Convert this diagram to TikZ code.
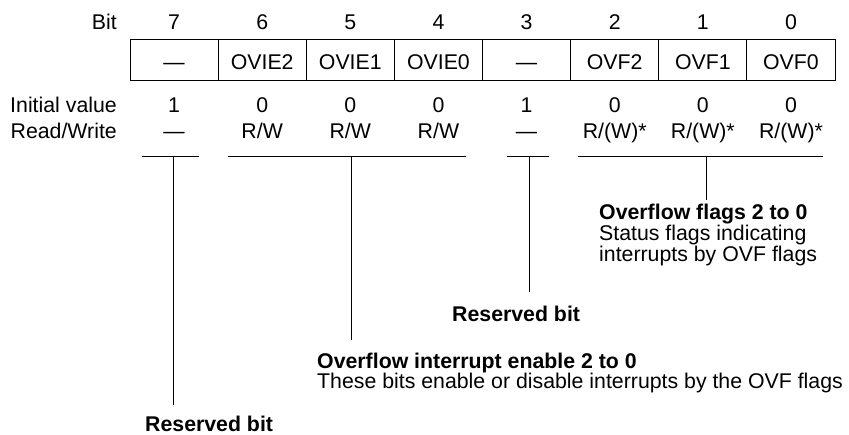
\documentclass[tikz,border=0pt]{standalone}
\usepackage{fontspec}
\setmainfont{Liberation Sans}
\begin{document}
\begin{tikzpicture}[x=1pt,y=-1pt,
  txt/.style={inner sep=0pt, font=\fontsize{21.3}{24}\selectfont},
  btxt/.style={inner sep=0pt, font=\fontsize{21.3}{24}\selectfont\bfseries},
  cell/.style={draw, line width=1pt, minimum width=88.125pt, minimum height=41pt, inner sep=0pt},
  ln/.style={line width=1pt}]
\useasboundingbox (0,0) rectangle (849,435);

% row labels
\node[txt, anchor=base east] (lbit) at (117,29.3) {Bit};
\node[txt, anchor=base east] (liv) at (117,112.7) {Initial value};
\node[txt, anchor=base east] (lrw) at (117,138.3) {Read/Write};

% register cells
\foreach \b/\nm/\iv/\rw [count=\k from 0] in
  {7/{—}/1/{—}, 6/{OVIE2}/0/{R/W}, 5/{OVIE1}/0/{R/W}, 4/{OVIE0}/0/{R/W},
   3/{—}/1/{—}, 2/{OVF2}/0/{R/(W)*}, 1/{OVF1}/0/{R/(W)*}, 0/{OVF0}/0/{R/(W)*}}{
  \node[cell] (c\b) at ({130+88.125*(\k+0.5)},60.5) {};
  \node[txt, anchor=base] (n\b) at ({130+88.125*(\k+0.5)},70) {\nm};
  \node[txt, anchor=base] (bn\b) at ({130+88.125*(\k+0.5)},29.3) {\b};
  \node[txt, anchor=base] (iv\b) at ({130+88.125*(\k+0.5)},112.7) {\iv};
  \node[txt, anchor=base] (rw\b) at ({130+88.125*(\k+0.5)},138.3) {\rw};
}

% brackets
\coordinate (b7l) at (142,156.5);
\coordinate (b7r) at (199,156.5);
\coordinate (b7m) at (173,156.5);
\coordinate (qil) at (228,156.5);
\coordinate (qir) at (466,156.5);
\coordinate (qim) at (351,156.5);
\coordinate (b3l) at (507,156.5);
\coordinate (b3r) at (549,156.5);
\coordinate (b3m) at (529,156.5);
\coordinate (ofl) at (578,156.5);
\coordinate (ofr) at (823,156.5);
\coordinate (ofm) at (706,156.5);
\draw[ln] (b7l) -- (b7r);
\draw[ln] (qil) -- (qir);
\draw[ln] (b3l) -- (b3r);
\draw[ln] (ofl) -- (ofr);

% annotations
\node[btxt, anchor=base west] (ovfT) at (599,220) {Overflow flags 2 to 0};
\node[txt, anchor=base west] (ovf1) at (599,241) {Status flags indicating};
\node[txt, anchor=base west] (ovf2) at (599,262) {interrupts by OVF flags};
\node[btxt, anchor=base west] (res3) at (452,321.7) {Reserved bit};
\node[btxt, anchor=base west] (ovieT) at (317,368.3) {Overflow interrupt enable 2 to 0};
\node[txt, anchor=base west] (ovie1) at (317,389) {These bits enable or disable interrupts by the OVF flags};
\node[btxt, anchor=base west] (res7) at (145,431.5) {Reserved bit};

% connector ends
\coordinate (e7) at (173,405);
\coordinate (eqi) at (351,340);
\coordinate (e3) at (529,292);
\coordinate (eof) at (706,200);
\draw[ln] (b7m) -- (e7);
\draw[ln] (qim) -- (eqi);
\draw[ln] (b3m) -- (e3);
\draw[ln] (ofm) -- (eof);
\end{tikzpicture}
\end{document}
